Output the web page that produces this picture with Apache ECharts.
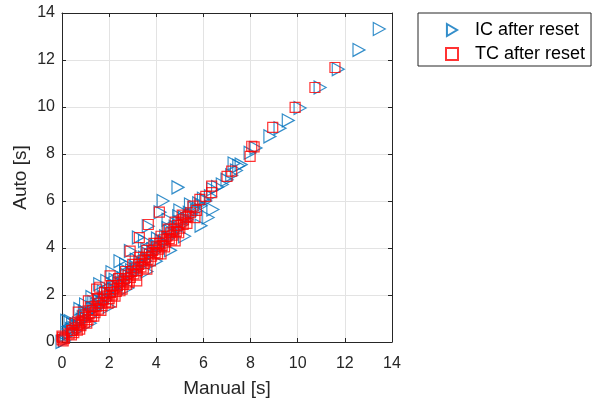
<!DOCTYPE html>
<html>
<head>
<meta charset="utf-8">
<script src="https://cdn.jsdelivr.net/npm/echarts@6/dist/echarts.min.js"></script>
<style>
  html, body { margin: 0; padding: 0; background: #fff; }
  #chart { width: 601px; height: 400px; }
</style>
</head>
<body>
<div id="chart"></div>
<script>
// Manual vs automatic timing, in seconds
const seriesNames = ['IC after reset', 'TC after reset'];
const axisTicks = [0, 2, 4, 6, 8, 10, 12, 14];

// IC after reset: [manual, auto]
const icPoints = [
  [0, 0], [0.1, 0.05], [0.2, 0.3], [0.3, 0.4], [0.4, 0.55], [0.5, 0.6], [0.55, 0.45],
  [0.6, 0.75], [0.7, 0.8], [0.75, 0.65], [0.85, 0.95], [0.9, 1.05], [1.0, 1.0],
  [1.05, 1.2], [1.15, 1.25], [1.2, 1.1], [1.3, 1.45], [1.4, 1.4], [1.45, 1.6],
  [1.55, 1.5], [1.6, 1.75], [1.7, 1.65], [1.8, 1.9], [1.85, 1.8], [1.95, 2.1],
  [2.05, 2.0], [2.15, 2.25], [2.2, 2.4], [2.3, 2.2], [2.4, 2.5], [2.5, 2.45],
  [2.6, 2.7], [2.65, 2.55], [2.75, 2.85], [2.85, 2.8], [2.95, 3.05], [3.0, 2.9],
  [3.1, 3.2], [3.2, 3.1], [3.3, 3.4], [3.4, 3.3], [3.5, 3.6], [3.55, 3.45],
  [3.65, 3.75], [3.75, 3.7], [3.85, 3.95], [3.9, 3.8], [4.0, 4.1], [4.1, 4.0],
  [4.2, 4.3], [4.3, 4.2], [4.4, 4.5], [4.5, 4.4], [4.6, 4.7], [4.7, 4.6],
  [4.8, 4.9], [4.9, 4.8], [5.0, 5.1], [5.1, 5.0], [5.2, 5.3], [5.3, 5.2],
  [5.4, 5.5], [5.5, 5.4], [5.6, 5.7], [5.7, 5.6], [5.8, 5.9], [5.9, 5.8],
  [6.0, 6.1], [6.1, 6.0],
  [0.45, 0.75], [0.95, 1.3], [1.35, 1.7], [1.75, 2.15], [2.25, 2.65], [2.7, 3.05],
  [3.15, 3.5], [3.6, 3.95], [4.05, 4.4], [4.5, 4.85], [4.95, 5.35], [5.45, 5.85],
  // above the main band
  [0.2, 0.9], [0.34, 0.89], [0.76, 1.4], [1.0, 1.6], [1.27, 1.91], [1.6, 2.46],
  [1.9, 2.6], [2.12, 2.97], [2.46, 3.44], [2.7, 3.3], [2.9, 3.87], [3.24, 4.45],
  [3.5, 4.3], [3.66, 4.93], [4.16, 5.52], [4.29, 6.0], [4.5, 5.2], [4.92, 6.58],
  [5.0, 5.6],
  // below the main band
  [1.2, 0.8], [2.0, 1.5], [2.8, 2.3], [3.6, 3.0], [4.0, 3.44], [4.6, 3.9],
  [5.2, 4.5], [5.9, 4.95], [6.2, 5.3], [6.4, 5.64],
  // longer runs
  [6.3, 6.2], [6.4, 6.5], [6.6, 6.6], [6.8, 6.7], [7.0, 6.9], [7.2, 7.1],
  [7.4, 7.3], [7.5, 7.5], [7.6, 7.55], [7.3, 7.6], [7.98, 8.05], [8.23, 8.26],
  [8.82, 8.75], [9.25, 9.1], [9.6, 9.43], [10.1, 9.96], [10.95, 10.83],
  [11.72, 11.61], [12.6, 12.43], [13.46, 13.32]
];

// TC after reset: [manual, auto]
const tcPoints = [
  [0, 0.1], [0.02, 0.2], [0.05, 0.05], [0.1, 0.15], [0, 0.25], [0.3, 0.35],
  [0.4, 0.3], [0.41, 0.48], [0.45, 0.5], [0.5, 0.4], [0.6, 0.6], [0.65, 0.5],
  [0.7, 0.75], [0.8, 0.7], [0.85, 0.9], [0.95, 0.85], [1.0, 1.05], [1.1, 0.95],
  [1.15, 1.2], [1.25, 1.1], [1.3, 1.35], [1.4, 1.25], [1.45, 1.5], [1.55, 1.4],
  [1.6, 1.65], [1.7, 1.55], [1.75, 1.8], [1.85, 1.7], [1.9, 1.95], [2.0, 1.85],
  [2.05, 2.1], [2.15, 2.0], [2.2, 2.25], [2.3, 2.15], [2.35, 2.4], [2.45, 2.3],
  [2.5, 2.55], [2.6, 2.45], [2.65, 2.7], [2.75, 2.6], [2.8, 2.85], [2.9, 2.75],
  [2.95, 3.0], [3.05, 2.9], [3.1, 3.15], [3.2, 3.05], [3.25, 3.3], [3.35, 3.2],
  [3.4, 3.45], [3.5, 3.35], [3.55, 3.6], [3.65, 3.5], [3.7, 3.75], [3.8, 3.65],
  [3.85, 3.9], [3.95, 3.8], [4.0, 4.05], [4.1, 3.95], [4.15, 4.2], [4.25, 4.1],
  [4.3, 4.35], [4.4, 4.25], [4.45, 4.5], [4.55, 4.4], [4.6, 4.65], [4.7, 4.55],
  [4.75, 4.8], [4.85, 4.7], [4.9, 4.95], [5.0, 4.85], [5.05, 5.1], [5.15, 5.2],
  [5.25, 5.3], [5.35, 5.35], [5.45, 5.5], [5.56, 5.78], [5.7, 5.6], [5.85, 6.07],
  [6.1, 6.2], [6.35, 6.36], [6.35, 6.63],
  [0.55, 0.8], [0.9, 1.15], [1.2, 1.5], [1.5, 1.85], [1.8, 2.1], [2.1, 2.4],
  [2.4, 2.7], [2.7, 3.0], [3.0, 3.3], [3.3, 3.6], [3.6, 3.9], [3.9, 4.2],
  [4.2, 4.5], [4.5, 4.8], [4.8, 5.1], [5.1, 5.4],
  [0.75, 0.55], [1.05, 0.8], [1.35, 1.1], [1.65, 1.35], [1.95, 1.65], [2.25, 1.95],
  [2.55, 2.25], [2.85, 2.55], [3.15, 2.85], [3.45, 3.15], [3.75, 3.45], [4.05, 3.75],
  [4.35, 4.05], [4.65, 4.35], [4.95, 4.65], [5.3, 5.05],
  // above the main band
  [0.69, 1.27], [1.12, 1.75], [1.47, 2.25], [1.6, 2.33], [2.04, 2.81],
  [2.89, 3.87], [3.28, 4.44], [3.66, 5.0], [4.13, 5.53],
  // below the main band
  [2.1, 1.7], [2.46, 2.18], [2.74, 2.46], [3.17, 2.6], [3.6, 3.1], [4.2, 3.75],
  [4.8, 4.3], [5.14, 5.0], [5.64, 5.29],
  // longer runs
  [7.0, 7.05], [7.2, 7.27], [7.98, 7.9], [8.05, 8.33], [8.15, 8.3], [8.94, 9.13],
  [9.89, 9.98], [10.73, 10.83], [11.58, 11.68]
];

const FONT = '"Liberation Sans", Arial, Helvetica, sans-serif';
const AXIS_COLOR = '#262626';
const GRID_COLOR = '#e3e3e3';
const IC_COLOR = '#0072BD';
const TC_COLOR = '#FF0000';

const axisMin = axisTicks[0];
const axisMax = axisTicks[axisTicks.length - 1];
const step = axisTicks[1] - axisTicks[0];

function mainAxis(name, extra) {
  return Object.assign({
    type: 'value', min: axisMin, max: axisMax, interval: step,
    name: name, nameLocation: 'middle', nameMoveOverlap: false,
    nameTextStyle: { fontFamily: FONT, fontSize: 19, color: AXIS_COLOR },
    axisLine: { show: true, onZero: false, lineStyle: { color: AXIS_COLOR, width: 1 } },
    axisTick: { show: true, inside: true, length: 4, lineStyle: { color: AXIS_COLOR } },
    splitLine: { show: true, lineStyle: { color: GRID_COLOR, width: 1 } }
  }, extra);
}

function frameAxis(position) {
  return {
    type: 'value', min: axisMin, max: axisMax, interval: step, position: position,
    axisLine: { show: true, onZero: false, lineStyle: { color: AXIS_COLOR, width: 1 } },
    axisTick: { show: true, inside: true, length: 4, lineStyle: { color: AXIS_COLOR } },
    axisLabel: { show: false },
    splitLine: { show: false }
  };
}

// legend glyphs: right-pointing triangle and square outline
const triangleIcon = 'path://M0,0L11,6.5L0,13Z';
const squareIcon = 'path://M0,0H10V10H0Z';

const chart = echarts.init(document.getElementById('chart'), null, { renderer: 'canvas' });
chart.setOption({
  animation: false,
  backgroundColor: '#ffffff',
  grid: { left: 62, right: 209, top: 13, bottom: 58, containLabel: false, outerBoundsMode: 'none' },
  xAxis: [
    mainAxis('Manual [s]', {
      position: 'bottom', nameGap: 37,
      axisLabel: { fontFamily: FONT, fontSize: 16, color: AXIS_COLOR, margin: 14 }
    }),
    frameAxis('top')
  ],
  yAxis: [
    mainAxis('Auto [s]', {
      position: 'left', nameGap: 32,
      axisLabel: { fontFamily: FONT, fontSize: 16, color: AXIS_COLOR, margin: 7 }
    }),
    frameAxis('right')
  ],
  legend: {
    orient: 'vertical',
    left: 418, top: 13,
    padding: [8, 6, 3, 27],
    itemGap: 6,
    itemWidth: 36, itemHeight: 12,
    symbolKeepAspect: true,
    borderColor: AXIS_COLOR, borderWidth: 1,
    backgroundColor: '#ffffff',
    textStyle: { fontFamily: FONT, fontSize: 18, lineHeight: 18, color: '#000000' },
    data: [
      { name: seriesNames[0], icon: triangleIcon },
      { name: seriesNames[1], icon: squareIcon }
    ]
  },
  series: [
    {
      name: seriesNames[0], type: 'scatter',
      data: icPoints,
      symbol: 'triangle', symbolRotate: -90, symbolSize: [13, 12],
      itemStyle: { color: 'rgba(0,0,0,0)', borderColor: IC_COLOR, borderWidth: 1.2 },
      z: 2
    },
    {
      name: seriesNames[1], type: 'scatter',
      data: tcPoints,
      symbol: 'rect', symbolSize: 10,
      itemStyle: { color: 'rgba(0,0,0,0)', borderColor: TC_COLOR, borderWidth: 1.2 },
      z: 3
    }
  ]
});
</script>
</body>
</html>
